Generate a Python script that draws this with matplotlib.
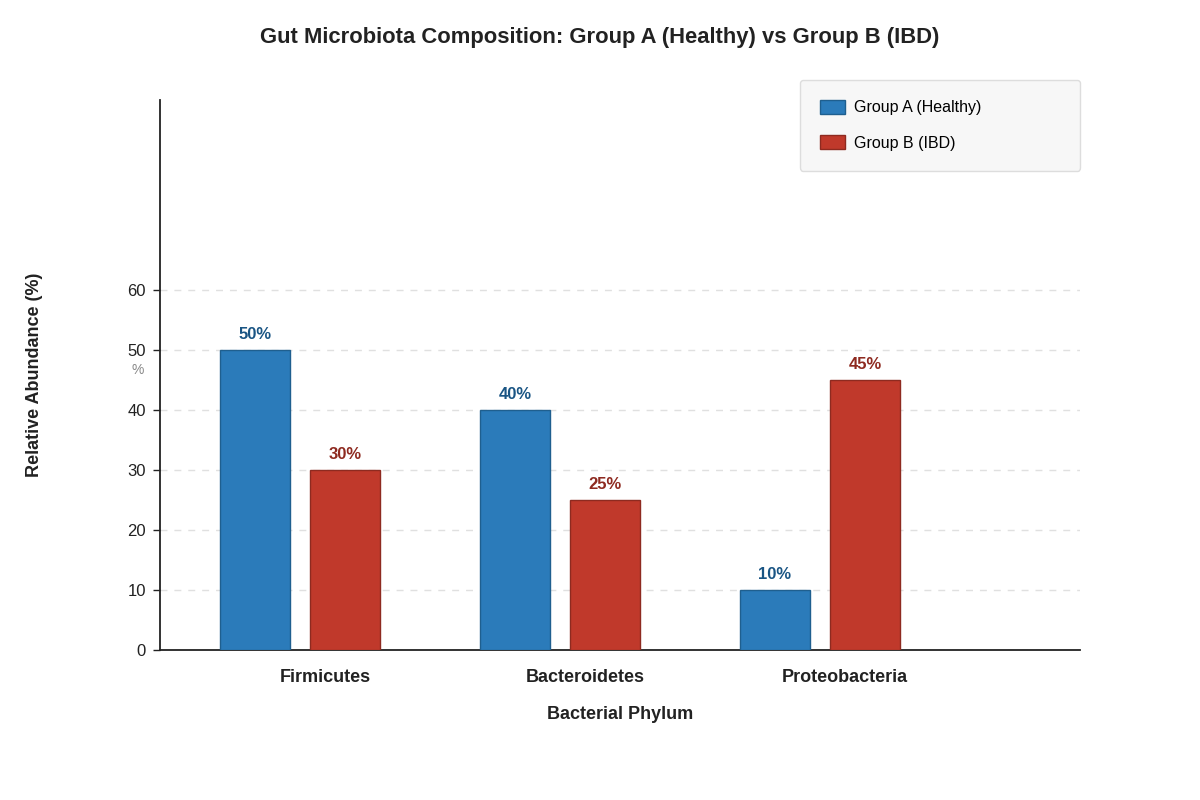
import numpy as np
import matplotlib.pyplot as plt

plt.rcParams['font.family'] = ['Liberation Sans', 'DejaVu Sans']

# Data
phyla = ['Firmicutes', 'Bacteroidetes', 'Proteobacteria']
group_a = [50, 40, 10]   # Healthy
group_b = [30, 25, 45]   # IBD
y_ticks = [0, 10, 20, 30, 40, 50, 60]

blue, blue_edge, blue_text = '#2b7bba', '#1f5f8f', '#1a5584'
red, red_edge, red_text = '#c0392b', '#8e2a20', '#8e2a20'

fig = plt.figure(figsize=(12, 8), dpi=100)
ax = fig.add_axes([160 / 1200, 150 / 800, 920 / 1200, 550 / 800])

x = np.arange(len(phyla))
w = 70 / 260
bars_a = ax.bar(x - 70 / 260, group_a, w, color=blue, edgecolor=blue_edge,
                linewidth=1, label='Group A (Healthy)', zorder=3)
bars_b = ax.bar(x + 20 / 260, group_b, w, color=red, edgecolor=red_edge,
                linewidth=1, label='Group B (IBD)', zorder=3)

for bars, col in ((bars_a, blue_text), (bars_b, red_text)):
    for b in bars:
        ax.annotate(f'{b.get_height():g}%', (b.get_x() + b.get_width() / 2, b.get_height()),
                    xytext=(0, 6), textcoords='offset points', ha='center', va='bottom',
                    fontsize=12, fontweight='bold', color=col)

ax.set_xlim(-165 / 260, 755 / 260)
ax.set_ylim(0, 550 / 6)
ax.set_yticks(y_ticks)
ax.set_xticks(x)
ax.set_xticklabels(phyla, fontsize=13, fontweight='bold', color='#222222')
ax.tick_params(axis='x', length=0, pad=14)
ax.tick_params(axis='y', labelsize=12, labelcolor='#222222', length=5, width=1, color='#222222', pad=5)
ax.yaxis.grid(True, linestyle=(0, (5, 5)), color='#e0e0e0', linewidth=1, zorder=0)
for s in ('top', 'right'):
    ax.spines[s].set_visible(False)
ax.spines['left'].set_color('#222222')
ax.spines['bottom'].set_color('#222222')
ax.spines['left'].set_linewidth(1.3)
ax.spines['bottom'].set_linewidth(1.3)

ax.set_xlabel('Bacterial Phylum', fontsize=13, fontweight='bold', color='#222222', labelpad=14)
fig.text(35 / 1200, 1 - 375 / 800, 'Relative Abundance (%)', rotation=90, ha='center', va='center',
         fontsize=13, fontweight='bold', color='#222222')
fig.text(138 / 1200, 1 - 370 / 800, '%', ha='center', va='center', fontsize=10, color='#888888')

fig.text(0.5, 1 - 37 / 800, 'Gut Microbiota Composition: Group A (Healthy) vs Group B (IBD)',
         ha='center', va='center', fontsize=15.8, fontweight='bold', color='#222222')

leg = ax.legend(loc='upper left', bbox_to_anchor=(800 / 1200, 1 - 170 / 800, 280 / 1200, 90 / 800),
                bbox_transform=fig.transFigure, mode='expand', fontsize=11.5, frameon=True,
                fancybox=True, borderpad=1.25, labelspacing=1.25, handlelength=1.55,
                handleheight=0.95, handletextpad=0.6, borderaxespad=0)
leg.get_frame().set_facecolor('#f7f7f7')
leg.get_frame().set_edgecolor('#dddddd')
leg.get_frame().set_alpha(1)

fig.savefig('out.png', dpi=100, facecolor='white')
